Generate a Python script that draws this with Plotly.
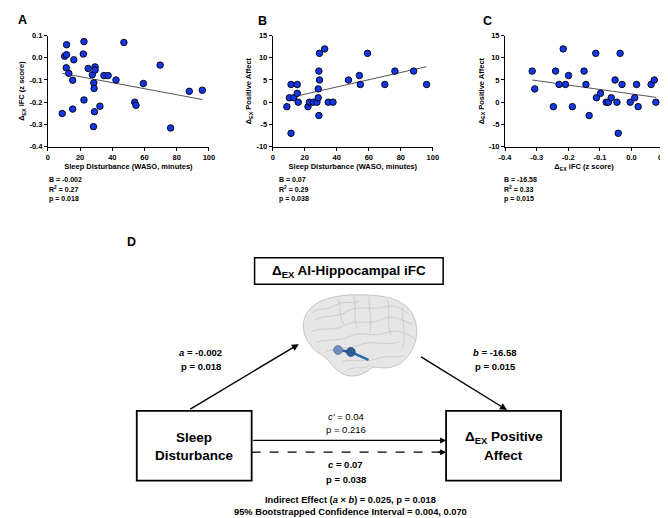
import plotly.graph_objects as go

# ---------------- data ----------------
a_waso = [8.9, 10.4, 11.6, 11.6, 11.4, 13.0, 15.4, 15.4, 16.1, 22.4, 22.0, 22.4, 25.0, 27.6, 28.5, 28.7,
          28.3, 28.9, 29.3, 29.3, 32.3, 34.8, 37.4, 42.3, 47.2, 53.9, 54.7, 59.3, 69.7, 76.2, 87.8, 95.9]
a_ifc = [-0.251, 0.007, 0.059, 0.014, -0.045, -0.070, -0.101, -0.231, -0.009, 0.073, 0.017, -0.190, -0.048,
         -0.076, -0.113, -0.138, -0.310, -0.243, -0.041, -0.055, -0.218, -0.080, -0.080, -0.100, 0.069,
         -0.200, -0.214, -0.116, -0.033, -0.316, -0.151, -0.146]
a_fit_x = [9, 96]
a_fit_y = [-0.070, -0.188]

b_waso = [8.8, 11.4, 10.4, 11.4, 13.1, 15.3, 15.3, 15.9, 22.0, 22.9, 25.3, 27.6, 28.4, 28.4, 28.8, 28.8,
          29.2, 29.2, 32.4, 34.7, 37.6, 47.3, 54.1, 54.7, 59.2, 70.0, 76.3, 88.0, 96.1]
b_pa = [-1, 4, 1, -7, 1, 4, 2, 0, -1, 0, 0, 0, 3, 1, -3, 7, 5, 11, 12, 0, 0, 5, 6, 4, 11, 4, 7, 7, 4]
b_fit_x = [9, 96]
b_fit_y = [0.9, 8.0]

c_ifc = [-0.314, -0.306, -0.247, -0.240, -0.229, -0.216, -0.209, -0.199, -0.187, -0.150, -0.144, -0.134,
         -0.113, -0.111, -0.098, -0.080, -0.073, -0.064, -0.052, -0.046, -0.042, -0.036, -0.030, -0.004,
         0.010, 0.016, 0.021, 0.062, 0.072, 0.077]
c_pa = [7, 3, -1, 7, 4, 12, 4, 6, -1, 7, 4, -3, 11, 1, 2, 0, 0, 1, 5, 0, -7, 11, 4, 0, 1, 4, -1, 4, 5, 0]
c_fit_x = [-0.314, 0.077]
c_fit_y = [5.0, 1.1]

waso_ticks = [0, 20, 40, 60, 80, 100]
waso_labels = ["0", "20", "40", "60", "80", "100"]
ifc_ticks = [0.1, 0.0, -0.1, -0.2, -0.3, -0.4]
ifc_labels = ["0.1", "0.0", "-0.1", "-0.2", "-0.3", "-0.4"]
pa_ticks = [15, 10, 5, 0, -5, -10]
pa_labels = ["15", "10", "5", "0", "-5", "-10"]
ifc_x_ticks = [-0.4, -0.3, -0.2, -0.1, 0.0, 0.1]
ifc_x_labels = ["-0.4", "-0.3", "-0.2", "-0.1", "0.0", "0.1"]

stats_a = ["B = -0.002", "R<sup>2</sup> = 0.27", "p = 0.018"]
stats_b = ["B = 0.07", "R<sup>2</sup> = 0.29", "p = 0.038"]
stats_c = ["B = -16.58", "R<sup>2</sup> = 0.33", "p = 0.015"]

# ---------------- figure ----------------
W, H = 668, 518
FONT = "Liberation Sans, Arial, sans-serif"
BLUE = "#1236e8"

fig = go.Figure()

panels = [
    ("x", "y", a_waso, a_ifc, a_fit_x, a_fit_y),
    ("x2", "y2", b_waso, b_pa, b_fit_x, b_fit_y),
    ("x3", "y3", c_ifc, c_pa, c_fit_x, c_fit_y),
]
for xa, ya, xs, ys, fx, fy in panels:
    fig.add_trace(go.Scatter(x=fx, y=fy, mode="lines", xaxis=xa, yaxis=ya,
                             line=dict(color="#555555", width=1), showlegend=False, hoverinfo="skip"))
    fig.add_trace(go.Scatter(x=xs, y=ys, mode="markers", xaxis=xa, yaxis=ya,
                             marker=dict(size=6.5, color=BLUE, line=dict(color="black", width=0.9)),
                             showlegend=False))

def px_dom_x(x0, x1):
    return [x0 / W, x1 / W]

def px_dom_y(top, bottom):
    return [1 - bottom / H, 1 - top / H]

tickfont = dict(family=FONT, size=7.5, color="black", weight="bold")
titlefont = dict(family=FONT, size=7.5, color="black", weight="bold")

def ax_style(**kw):
    d = dict(showline=True, linecolor="black", linewidth=1, ticks="outside", ticklen=3, tickwidth=1,
             tickcolor="black", showgrid=False, zeroline=False, tickfont=tickfont, fixedrange=True)
    d.update(kw)
    return d

ydom = px_dom_y(24, 137)
fig.update_layout(
    xaxis=ax_style(domain=px_dom_x(34.5, 198.5), range=[0, 100], tickvals=waso_ticks, ticktext=waso_labels,
                   anchor="y", title=dict(text="Sleep Disturbance (WASO, minutes)", font=titlefont, standoff=3)),
    yaxis=ax_style(domain=ydom, range=[-0.4, 0.1], tickvals=ifc_ticks, ticktext=ifc_labels, anchor="x",
                   title=dict(text="Δ<sub>EX</sub> iFC (z score)", font=titlefont, standoff=3)),
    xaxis2=ax_style(domain=px_dom_x(263.5, 426.5), range=[0, 100], tickvals=waso_ticks, ticktext=waso_labels,
                    anchor="y2", title=dict(text="Sleep Disturbance (WASO, minutes)", font=titlefont, standoff=3)),
    yaxis2=ax_style(domain=ydom, range=[-10, 15], tickvals=pa_ticks, ticktext=pa_labels, anchor="x2",
                    title=dict(text="Δ<sub>EX</sub> Positive Affect", font=titlefont, standoff=3)),
    xaxis3=ax_style(domain=px_dom_x(500, 661), range=[-0.4, 0.1], tickvals=ifc_x_ticks, ticktext=ifc_x_labels,
                    anchor="y3", title=dict(text="Δ<sub>EX</sub> iFC (z score)", font=titlefont, standoff=3)),
    yaxis3=ax_style(domain=ydom, range=[-10, 15], tickvals=pa_ticks, ticktext=pa_labels, anchor="x3",
                    title=dict(text="Δ<sub>EX</sub> Positive Affect", font=titlefont, standoff=3)),
    # pixel canvas for the path diagram
    xaxis4=dict(domain=[0, 1], range=[0, W], visible=False, fixedrange=True, anchor="y4"),
    yaxis4=dict(domain=[0, 1], range=[H, 0], visible=False, fixedrange=True, anchor="x4"),
    width=W, height=H, margin=dict(l=0, r=0, t=0, b=0),
    paper_bgcolor="white", plot_bgcolor="rgba(0,0,0,0)",
    font=dict(family=FONT, color="black"),
)

ann = []

def txt(x, y, text, size, bold=True, xanchor="center", align="center"):
    ann.append(dict(x=x, y=y, xref="x4", yref="y4", text=text, showarrow=False, xanchor=xanchor,
                    yanchor="middle", align=align,
                    font=dict(family=FONT, size=size, color="black", weight="bold" if bold else "normal")))

# panel letters
txt(2, 8, "A", 12.5, xanchor="left")
txt(246, 9, "B", 12.5, xanchor="left")
txt(476, 9, "C", 12.5, xanchor="left")
txt(113, 234, "D", 12.5, xanchor="left")

# stats under scatters
for x0, lines in [(34, stats_a), (268, stats_b), (497, stats_c)]:
    for i, line in enumerate(lines):
        txt(x0, 170 + i * 10, line, 7, xanchor="left", align="left")

shapes = []
# title box
shapes.append(dict(type="rect", xref="x4", yref="y4", x0=245, y0=250, x1=437, y1=277,
                   line=dict(color="black", width=1.5)))
txt(341, 264, "Δ<sub>EX</sub> AI-Hippocampal iFC", 13.5)

# brain (decorative, light translucent glass-brain look)
brain = ("M 300 336 C 292 325 292 308 306 298 C 318 289 340 287 358 288 C 380 288 398 294 405 306 "
         "C 412 318 412 334 404 346 C 400 352 396 358 386 361 C 376 364 368 360 364 362 "
         "C 358 368 346 374 334 368 C 324 362 320 352 312 348 C 306 345 303 341 300 336 Z")
shapes.append(dict(type="path", xref="x4", yref="y4", path=brain, fillcolor="rgba(222,222,222,0.75)",
                   line=dict(color="rgba(190,190,190,0.9)", width=1), layer="below"))
gyri = [
    "M 304 306 C 312 300 320 304 328 298 C 336 293 344 298 352 294",
    "M 306 314 C 318 307 330 312 340 304 C 352 298 366 304 378 300 C 388 297 396 302 402 308",
    "M 303 325 C 316 320 326 326 338 318 C 350 312 362 320 376 312 C 386 308 396 314 406 318",
    "M 308 336 C 320 332 330 336 342 330 C 354 324 366 332 380 326 C 390 322 400 328 408 332",
    "M 318 346 C 330 340 342 344 354 338 C 366 334 378 340 392 336",
    "M 330 292 C 334 302 330 310 336 318",
    "M 346 290 C 350 300 344 310 350 322",
    "M 362 290 C 360 302 366 312 362 326",
    "M 380 292 C 384 304 378 314 384 328",
    "M 396 300 C 394 312 400 322 396 342",
    "M 334 356 C 346 352 358 358 372 352 C 380 349 388 352 396 350",
    "M 340 364 C 348 360 356 364 362 360",
]
for g in gyri:
    shapes.append(dict(type="path", xref="x4", yref="y4", path=g,
                       line=dict(color="rgba(180,180,180,0.55)", width=0.9), layer="below"))
# seed and target spheres
shapes.append(dict(type="line", xref="x4", yref="y4", x0=343, y0=346, x1=361, y1=354,
                   line=dict(color="#2b6cb0", width=2.5)))
shapes.append(dict(type="line", xref="x4", yref="y4", x0=330, y0=344, x1=343, y1=346,
                   line=dict(color="#2b5c94", width=2.5)))
shapes.append(dict(type="circle", xref="x4", yref="y4", x0=325.5, y0=339.5, x1=334.5, y1=348.5,
                   fillcolor="#7090b8", line=dict(color="#56779f", width=0.8)))
shapes.append(dict(type="circle", xref="x4", yref="y4", x0=338.5, y0=341.5, x1=347.5, y1=350.5,
                   fillcolor="#2f5f96", line=dict(color="#234a78", width=0.8)))

# boxes
shapes.append(dict(type="rect", xref="x4", yref="y4", x0=125, y0=406, x1=242, y1=477,
                   line=dict(color="black", width=1.8)))
shapes.append(dict(type="rect", xref="x4", yref="y4", x0=440, y0=406, x1=557, y1=477,
                   line=dict(color="black", width=1.8)))
txt(183.5, 433, "Sleep", 13.5)
txt(183.5, 451, "Disturbance", 13.5)
txt(498.5, 433, "Δ<sub>EX</sub> Positive", 13.5)
txt(498.5, 451, "Affect", 13.5)

# dashed total-effect line
shapes.append(dict(type="line", xref="x4", yref="y4", x0=242, y0=448, x1=434, y1=448,
                   line=dict(color="black", width=1.3, dash="dash")))

def arrow(x0, y0, x1, y1, w=1.4):
    ann.append(dict(x=x1, y=y1, ax=x0, ay=y0, xref="x4", yref="y4", axref="x4", ayref="y4", text="",
                    showarrow=True, arrowhead=2, arrowsize=1, arrowwidth=w, arrowcolor="black",
                    standoff=0, startstandoff=0))

arrow(178, 405, 290, 338)
arrow(413, 350, 502, 405)
arrow(242, 436, 440, 436, 1.2)
arrow(430, 448, 440, 448, 1.2)

txt(190, 347, "<i>a</i> = -0.002", 9.5)
txt(190, 361, "p = 0.018", 9.5)
txt(490, 347, "<i>b</i> = -16.58", 9.5)
txt(490, 361, "p = 0.015", 9.5)
txt(338, 412, "<i>c′</i> = 0.04", 9.5, bold=False)
txt(338, 425, "p = 0.216", 9.5, bold=False)
txt(338, 461, "<i>c</i> = 0.07", 9.5)
txt(338, 476, "p = 0.038", 9.5)
txt(343, 497, "Indirect Effect (<i>a</i> × <i>b</i>) = 0.025, p = 0.018", 9.3)
txt(343, 508.5, "95% Bootstrapped Confidence Interval = 0.004, 0.070", 9.3)

fig.update_layout(annotations=ann, shapes=shapes)
fig.write_html("out.html")
